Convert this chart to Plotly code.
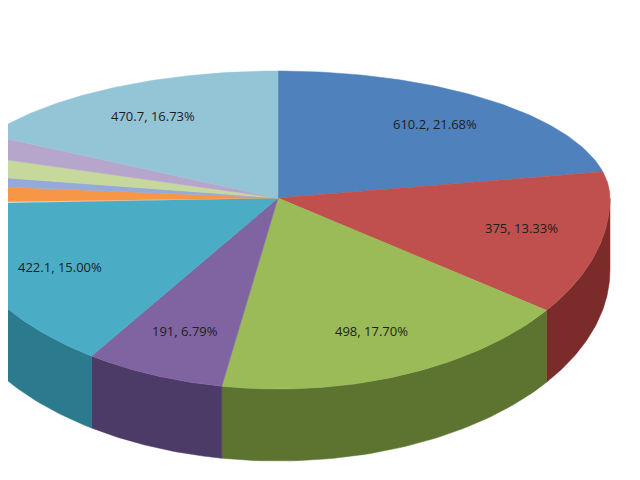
import numpy as np
import plotly.graph_objects as go

# slice values, clockwise from 12 o'clock
values = [610.2, 375, 498, 191, 422.1, 62, 38, 72, 75.1, 470.7]
top_colors = ['#4F81BD', '#C0504D', '#9BBB59', '#8064A2', '#4BACC6',
              '#F79646', '#95A9DA', '#C6D89B', '#B7A6CC', '#93C5D7']
side_colors = ['#2F4E78', '#7B2C2A', '#5D7431', '#4C3B66', '#2C7A8E',
               '#A85E22', '#5E6E99', '#80915C', '#74668A', '#5E8FA0']

# geometry of the tilted pie (pixels)
cx, cy = 278, 197
rx, ry_top, ry_bot = 332, 127, 191
depth = 72


def pt(t, r=1.0):
    ry = ry_top if np.cos(t) > 0 else ry_bot
    return cx + r * rx * np.sin(t), cy - r * ry * np.cos(t)


total = sum(values)
bounds = np.concatenate([[0], np.cumsum(values)]) / total * 2 * np.pi

fig = go.Figure()

# side walls (front half only)
for i in range(len(values)):
    a, b = max(bounds[i], np.pi / 2), min(bounds[i + 1], 3 * np.pi / 2)
    if b <= a:
        continue
    ts = np.linspace(a, b, 60)
    xs = [pt(t)[0] for t in ts]
    ys = [pt(t)[1] for t in ts]
    px = xs + xs[::-1]
    py = ys + [y + depth for y in ys[::-1]]
    fig.add_trace(go.Scatter(x=px + [px[0]], y=py + [py[0]], fill='toself', mode='lines',
                             fillcolor=side_colors[i], line=dict(color=side_colors[i], width=0.5),
                             hoverinfo='skip', showlegend=False))

# top faces
for i in range(len(values)):
    ts = np.linspace(bounds[i], bounds[i + 1], 80)
    xs = [cx] + [pt(t)[0] for t in ts] + [cx]
    ys = [cy] + [pt(t)[1] for t in ts] + [cy]
    fig.add_trace(go.Scatter(x=xs, y=ys, fill='toself', mode='lines',
                             fillcolor=top_colors[i], line=dict(color=top_colors[i], width=0.5),
                             hoverinfo='skip', showlegend=False))

# labels
for i, v in enumerate(values):
    if v < 100:
        continue
    mid = (bounds[i] + bounds[i + 1]) / 2
    x, y = pt(mid, 0.75)
    fig.add_annotation(x=x, y=y, text=f"{v:g}, {v / total * 100:.2f}%", showarrow=False,
                       font=dict(family='Open Sans', size=13, color='#1E1E1E'))

# frame bits from the original screenshot
fig.add_shape(type='line', x0=0, x1=660, y0=3, y1=3, line=dict(color='#D5DCE4', width=2))
fig.add_shape(type='line', x0=2, x1=2, y0=30, y1=135, line=dict(color='#222222', width=2))

# page has an 8px body margin, so shift the view to compensate
fig.update_xaxes(range=[8, 648], visible=False)
fig.update_yaxes(range=[487, 7], visible=False)
fig.update_layout(width=640, height=480, margin=dict(l=0, r=0, t=0, b=0),
                  plot_bgcolor='white', paper_bgcolor='white')

fig.write_html("out.html")
